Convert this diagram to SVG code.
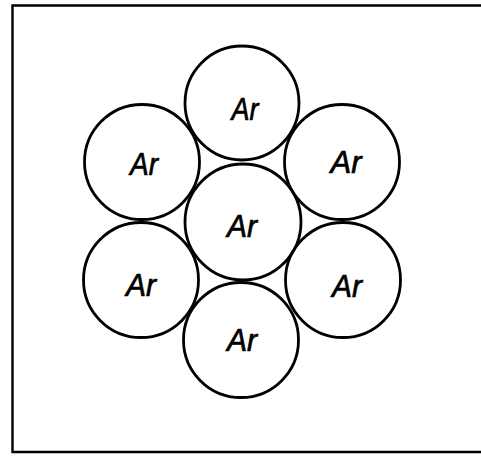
<svg xmlns="http://www.w3.org/2000/svg" width="481" height="458" viewBox="0 0 481 458">
<style>
.atom circle{fill:none;stroke:#000;stroke-width:2.8}
.atom text{font-family:"Liberation Sans",Arial,sans-serif;font-style:italic;font-size:32px;fill:#000;stroke:#000;stroke-width:0.7;text-anchor:middle}
.frame{fill:none;stroke:#000;stroke-width:2.4}
</style>
<rect width="481" height="458" fill="#fff"/>
<path class="frame" d="M490 5.5 L12.5 5.5 L12.5 452 L490 452"/>
<g id="ar-top" class="atom"><circle cx="242" cy="103" r="57"/><text x="245" y="120" textLength="27" lengthAdjust="spacingAndGlyphs">Ar</text></g>
<g id="ar-upper-left" class="atom"><circle cx="142" cy="162" r="57.5"/><text x="144" y="175" textLength="28" lengthAdjust="spacingAndGlyphs">Ar</text></g>
<g id="ar-upper-right" class="atom"><circle cx="342" cy="162" r="57.5"/><text x="346" y="173" textLength="31" lengthAdjust="spacingAndGlyphs">Ar</text></g>
<g id="ar-center" class="atom"><circle cx="243" cy="222" r="58"/><text x="242" y="237" textLength="30" lengthAdjust="spacingAndGlyphs">Ar</text></g>
<g id="ar-lower-left" class="atom"><circle cx="141" cy="280" r="57.5"/><text x="141" y="296" textLength="30" lengthAdjust="spacingAndGlyphs">Ar</text></g>
<g id="ar-lower-right" class="atom"><circle cx="343" cy="280" r="57.5"/><text x="347" y="297" textLength="30" lengthAdjust="spacingAndGlyphs">Ar</text></g>
<g id="ar-bottom" class="atom"><circle cx="241" cy="340" r="57.5"/><text x="242" y="351" textLength="30" lengthAdjust="spacingAndGlyphs">Ar</text></g>
</svg>
